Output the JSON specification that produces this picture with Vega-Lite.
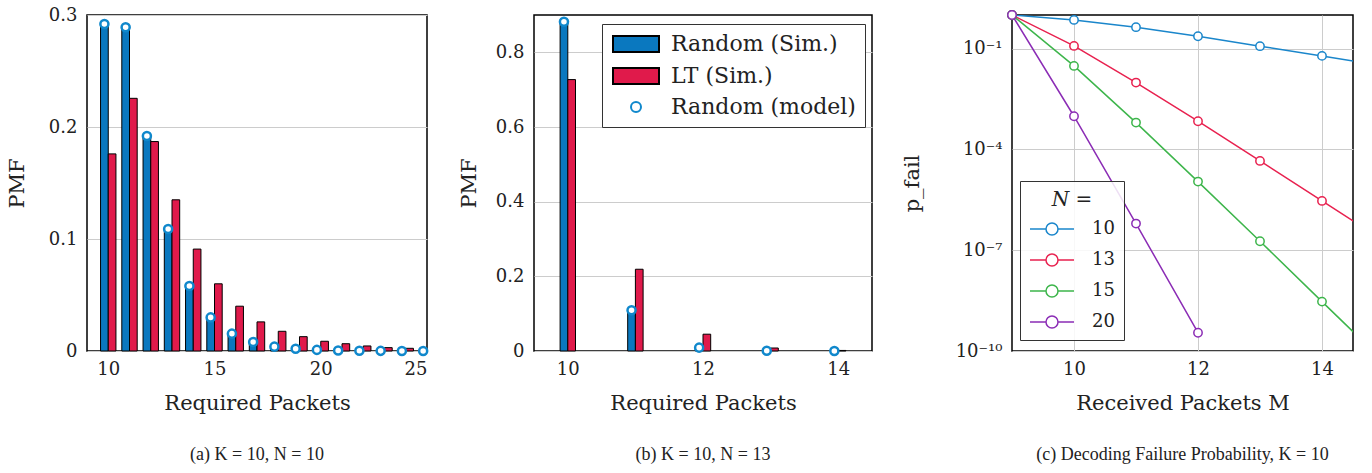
{
  "$schema": "https://vega.github.io/schema/vega-lite/v6.json",
  "padding": {"left": 5, "top": 5, "right": 0, "bottom": 0},
  "background": "white",
  "datasets": {
    "pmfA": [
      {"M": 10, "series": "Random (Sim.)", "pmf": 0.292}, {"M": 10, "series": "LT (Sim.)", "pmf": 0.176}, {"M": 10, "series": "Random (model)", "pmf": 0.292},
      {"M": 11, "series": "Random (Sim.)", "pmf": 0.289}, {"M": 11, "series": "LT (Sim.)", "pmf": 0.2256}, {"M": 11, "series": "Random (model)", "pmf": 0.289},
      {"M": 12, "series": "Random (Sim.)", "pmf": 0.192}, {"M": 12, "series": "LT (Sim.)", "pmf": 0.187}, {"M": 12, "series": "Random (model)", "pmf": 0.192},
      {"M": 13, "series": "Random (Sim.)", "pmf": 0.109}, {"M": 13, "series": "LT (Sim.)", "pmf": 0.135}, {"M": 13, "series": "Random (model)", "pmf": 0.109},
      {"M": 14, "series": "Random (Sim.)", "pmf": 0.058}, {"M": 14, "series": "LT (Sim.)", "pmf": 0.091}, {"M": 14, "series": "Random (model)", "pmf": 0.058},
      {"M": 15, "series": "Random (Sim.)", "pmf": 0.030}, {"M": 15, "series": "LT (Sim.)", "pmf": 0.060}, {"M": 15, "series": "Random (model)", "pmf": 0.030},
      {"M": 16, "series": "Random (Sim.)", "pmf": 0.0155}, {"M": 16, "series": "LT (Sim.)", "pmf": 0.040}, {"M": 16, "series": "Random (model)", "pmf": 0.0155},
      {"M": 17, "series": "Random (Sim.)", "pmf": 0.0078}, {"M": 17, "series": "LT (Sim.)", "pmf": 0.026}, {"M": 17, "series": "Random (model)", "pmf": 0.008},
      {"M": 18, "series": "Random (Sim.)", "pmf": 0.0039}, {"M": 18, "series": "LT (Sim.)", "pmf": 0.0176}, {"M": 18, "series": "Random (model)", "pmf": 0.0039},
      {"M": 19, "series": "Random (Sim.)", "pmf": 0.0019}, {"M": 19, "series": "LT (Sim.)", "pmf": 0.0128}, {"M": 19, "series": "Random (model)", "pmf": 0.002},
      {"M": 20, "series": "Random (Sim.)", "pmf": 0.001}, {"M": 20, "series": "LT (Sim.)", "pmf": 0.0087}, {"M": 20, "series": "Random (model)", "pmf": 0.001},
      {"M": 21, "series": "Random (Sim.)", "pmf": 0.0005}, {"M": 21, "series": "LT (Sim.)", "pmf": 0.0065}, {"M": 21, "series": "Random (model)", "pmf": 0.0005},
      {"M": 22, "series": "Random (Sim.)", "pmf": 0.00025}, {"M": 22, "series": "LT (Sim.)", "pmf": 0.0045}, {"M": 22, "series": "Random (model)", "pmf": 0.00024},
      {"M": 23, "series": "Random (Sim.)", "pmf": 0.00012}, {"M": 23, "series": "LT (Sim.)", "pmf": 0.003}, {"M": 23, "series": "Random (model)", "pmf": 0.00012},
      {"M": 24, "series": "Random (Sim.)", "pmf": 0.00006}, {"M": 24, "series": "LT (Sim.)", "pmf": 0.0024}, {"M": 24, "series": "Random (model)", "pmf": 0.00006},
      {"M": 25, "series": "Random (Sim.)", "pmf": 0.00003}, {"M": 25, "series": "Random (model)", "pmf": 0.00003}
    ],
    "pmfB": [
      {"M": 10, "series": "Random (Sim.)", "pmf": 0.882}, {"M": 10, "series": "LT (Sim.)", "pmf": 0.727}, {"M": 10, "series": "Random (model)", "pmf": 0.882},
      {"M": 11, "series": "Random (Sim.)", "pmf": 0.108}, {"M": 11, "series": "LT (Sim.)", "pmf": 0.219}, {"M": 11, "series": "Random (model)", "pmf": 0.109},
      {"M": 12, "series": "Random (Sim.)", "pmf": 0.009}, {"M": 12, "series": "LT (Sim.)", "pmf": 0.045}, {"M": 12, "series": "Random (model)", "pmf": 0.009},
      {"M": 13, "series": "Random (Sim.)", "pmf": 0.0006}, {"M": 13, "series": "LT (Sim.)", "pmf": 0.008}, {"M": 13, "series": "Random (model)", "pmf": 0.0006},
      {"M": 14, "series": "Random (Sim.)", "pmf": 0.00004}, {"M": 14, "series": "LT (Sim.)", "pmf": 0.0015}, {"M": 14, "series": "Random (model)", "pmf": 0.00004}
    ],
    "pfail": [
      {"M": 9, "N": "10", "p": 1}, {"M": 10, "N": "10", "p": 0.714}, {"M": 11, "N": "10", "p": 0.434}, {"M": 12, "N": "10", "p": 0.234}, {"M": 13, "N": "10", "p": 0.118}, {"M": 14, "N": "10", "p": 0.0607}, {"M": 15, "N": "10", "p": 0.030},
      {"M": 9, "N": "13", "p": 1}, {"M": 10, "N": "13", "p": 0.120}, {"M": 11, "N": "13", "p": 0.00973}, {"M": 12, "N": "13", "p": 0.00069}, {"M": 13, "N": "13", "p": 0.0000455}, {"M": 14, "N": "13", "p": 0.00000293}, {"M": 15, "N": "13", "p": 0.00000019},
      {"M": 9, "N": "15", "p": 1}, {"M": 10, "N": "15", "p": 0.0305}, {"M": 11, "N": "15", "p": 0.000628}, {"M": 12, "N": "15", "p": 0.000011}, {"M": 13, "N": "15", "p": 0.000000185}, {"M": 14, "N": "15", "p": 0.00000000295}, {"M": 15, "N": "15", "p": 0.000000000048},
      {"M": 9, "N": "20", "p": 1}, {"M": 10, "N": "20", "p": 0.00097}, {"M": 11, "N": "20", "p": 0.00000062}, {"M": 12, "N": "20", "p": 0.00000000035}
    ]
  },
  "config": {
    "view": {"stroke": "black", "strokeWidth": 1.5},
    "axis": {
      "labelFont": "DejaVu Serif", "labelFontSize": 18, "labelColor": "#222",
      "titleFont": "DejaVu Serif", "titleFontSize": 21, "titleFontWeight": "normal", "titleColor": "#222",
      "domain": false, "ticks": false, "gridColor": "#cccccc", "gridWidth": 1,
      "labelPadding": 9, "titlePadding": 14
    },
    "axisX": {"format": "d"},
    "axisY": {"titlePadding": 16, "labelPadding": 10},
    "title": {"orient": "bottom", "anchor": "middle", "font": "Liberation Serif", "fontSize": 18, "fontWeight": "normal", "color": "#222", "offset": 33}
  },
  "resolve": {"scale": {"color": "independent"}, "legend": {"color": "independent"}},
  "spacing": 27,
  "hconcat": [
    {
      "bounds": "flush",
      "spacing": 107,
      "resolve": {
        "scale": {"fill": "independent", "stroke": "independent", "shape": "independent"},
        "legend": {"fill": "independent", "stroke": "independent", "shape": "independent"}
      },
      "hconcat": [
        {
          "width": 340, "height": 336,
          "title": {"text": "(a) K = 10, N = 10"},
          "data": {"name": "pmfA"},
          "layer": [
            {
              "transform": [{"filter": "datum.series === 'Random (Sim.)'"}],
              "mark": {"type": "bar", "size": 7.7, "xOffset": -3.85, "fill": "#0a78bf", "stroke": "black", "strokeWidth": 1},
              "encoding": {
                "x": {"field": "M", "type": "quantitative", "scale": {"domain": [9, 25], "nice": false, "zero": false, "padding": 0}, "axis": {"values": [10, 15, 20, 25], "grid": false, "title": "Required Packets"}},
                "y": {"field": "pmf", "type": "quantitative", "scale": {"domain": [0, 0.3], "nice": false}, "axis": {"values": [0, 0.1, 0.2, 0.3], "format": "~g", "grid": true, "title": "PMF", "titlePadding": 21}}
              }
            },
            {
              "transform": [{"filter": "datum.series === 'LT (Sim.)'"}],
              "mark": {"type": "bar", "size": 7.7, "xOffset": 3.85, "fill": "#e01a4b", "stroke": "black", "strokeWidth": 1},
              "encoding": {
                "x": {"field": "M", "type": "quantitative"},
                "y": {"field": "pmf", "type": "quantitative"}
              }
            },
            {
              "transform": [{"filter": "datum.series === 'Random (model)'"}],
              "mark": {"type": "point", "shape": "circle", "size": 65, "xOffset": -3.85, "filled": false, "fill": "white", "stroke": "#1088cc", "strokeWidth": 2.5, "opacity": 1},
              "encoding": {
                "x": {"field": "M", "type": "quantitative"},
                "y": {"field": "pmf", "type": "quantitative"}
              }
            }
          ]
        },
        {
          "width": 338, "height": 336,
          "title": {"text": "(b) K = 10, N = 13"},
          "data": {"name": "pmfB"},
          "layer": [
            {
              "transform": [{"filter": "datum.series === 'Random (Sim.)'"}],
              "mark": {"type": "bar", "size": 7.7, "xOffset": -3.85, "strokeWidth": 1, "fillOpacity": 1},
              "encoding": {
                "x": {"field": "M", "type": "quantitative", "scale": {"domain": [9.5, 14.5], "nice": false, "zero": false, "padding": 0}, "axis": {"values": [10, 12, 14], "grid": false, "title": "Required Packets"}},
                "y": {"field": "pmf", "type": "quantitative", "scale": {"domain": [0, 0.9], "nice": false}, "axis": {"values": [0, 0.2, 0.4, 0.6, 0.8], "format": "~g", "grid": true, "title": "PMF"}},
                "fill": {
                  "field": "series", "type": "nominal",
                  "scale": {"domain": ["Random (Sim.)", "LT (Sim.)", "Random (model)"], "range": ["#0a78bf", "#e01a4b", "white"]},
                  "legend": {
                    "orient": "none", "legendX": 68, "legendY": 9, "title": null,
                    "strokeColor": "#333", "fillColor": "white", "padding": 9,
                    "labelFont": "DejaVu Serif", "labelFontSize": 22, "labelColor": "#222", "labelLimit": 400,
                    "symbolSize": 100, "symbolOffset": 14, "labelOffset": 24, "rowPadding": 8,
                    "symbolStrokeWidth": 2, "symbolOpacity": 1
                  }
                },
                "stroke": {
                  "field": "series", "type": "nominal",
                  "scale": {"domain": ["Random (Sim.)", "LT (Sim.)", "Random (model)"], "range": ["black", "black", "#1088cc"]},
                  "legend": {
                    "orient": "none", "legendX": 68, "legendY": 9, "title": null,
                    "strokeColor": "#333", "fillColor": "white", "padding": 9,
                    "labelFont": "DejaVu Serif", "labelFontSize": 22, "labelColor": "#222", "labelLimit": 400,
                    "symbolSize": 100, "symbolOffset": 14, "labelOffset": 24, "rowPadding": 8,
                    "symbolStrokeWidth": 2, "symbolOpacity": 1
                  }
                }
              }
            },
            {
              "transform": [{"filter": "datum.series === 'LT (Sim.)'"}],
              "mark": {"type": "bar", "size": 7.7, "xOffset": 3.85, "strokeWidth": 1, "fillOpacity": 1},
              "encoding": {
                "x": {"field": "M", "type": "quantitative"},
                "y": {"field": "pmf", "type": "quantitative"},
                "fill": {"field": "series", "type": "nominal"},
                "stroke": {"field": "series", "type": "nominal"}
              }
            },
            {
              "transform": [{"filter": "datum.series === 'Random (model)'"}],
              "mark": {"type": "point", "size": 65, "xOffset": -3.85, "strokeWidth": 2.5, "opacity": 1, "fillOpacity": 1},
              "encoding": {
                "x": {"field": "M", "type": "quantitative"},
                "y": {"field": "pmf", "type": "quantitative"},
                "fill": {"field": "series", "type": "nominal"},
                "stroke": {"field": "series", "type": "nominal"},
                "shape": {
                  "field": "series", "type": "nominal",
                  "scale": {"domain": ["Random (Sim.)", "LT (Sim.)", "Random (model)"], "range": ["M-4.6,-1.6H4.6V1.6H-4.6Z", "M-4.6,-1.6H4.6V1.6H-4.6Z", "circle"]},
                  "legend": {
                    "orient": "none", "legendX": 68, "legendY": 9, "title": null,
                    "strokeColor": "#333", "fillColor": "white", "padding": 9,
                    "labelFont": "DejaVu Serif", "labelFontSize": 22, "labelColor": "#222", "labelLimit": 400,
                    "symbolSize": 100, "symbolOffset": 14, "labelOffset": 24, "rowPadding": 8,
                    "symbolStrokeWidth": 2, "symbolOpacity": 1
                  }
                }
              }
            }
          ]
        }
      ]
    },
    {
      "width": 341, "height": 336,
      "title": {"text": "(c) Decoding Failure Probability, K = 10"},
      "data": {"name": "pfail"},
      "layer": [
        {
          "mark": {"type": "line", "strokeWidth": 1.5, "clip": true},
          "encoding": {
            "x": {"field": "M", "type": "quantitative", "scale": {"domain": [9, 14.5], "nice": false, "zero": false}, "axis": {"values": [10, 12, 14], "grid": true, "title": "Received Packets M"}},
            "y": {"field": "p", "type": "quantitative", "scale": {"type": "log", "domain": [1e-10, 1], "nice": false}, "axis": {"values": [1e-10, 1e-7, 1e-4, 1e-1], "grid": true, "title": "p_fail", "titlePadding": 33, "labelExpr": "datum.value < 1e-9 ? '10⁻¹⁰' : datum.value < 1e-6 ? '10⁻⁷' : datum.value < 1e-3 ? '10⁻⁴' : '10⁻¹'"}},
            "color": {
              "field": "N", "type": "nominal",
              "scale": {"domain": ["10", "13", "15", "20"], "range": ["#1a86cb", "#e8214f", "#3db54b", "#8b2cb5"]},
              "legend": {
                "orient": "none", "legendX": 8, "legendY": 166, "title": "N =",
                "titleFont": "DejaVu Serif", "titleFontStyle": "italic", "titleFontSize": 20, "titleFontWeight": "normal", "titleAnchor": "middle", "titleColor": "#222", "titlePadding": 8,
                "strokeColor": "#333", "fillColor": "rgba(255,255,255,0.85)", "padding": 9,
                "labelFont": "DejaVu Serif", "labelFontSize": 18, "labelColor": "#222",
                "symbolType": "M-2.2,0H-0.6M0.6,0H2.2M0.6,0A0.6,0.6 0 1,1 -0.6,0A0.6,0.6 0 1,1 0.6,0",
                "symbolSize": 400, "symbolOffset": 12, "labelOffset": 29, "rowPadding": 11,
                "symbolStrokeWidth": 1.5, "symbolFillColor": "white"
              }
            },
            "detail": {"field": "N"}
          }
        },
        {
          "transform": [{"filter": "datum.M <= 14"}],
          "mark": {"type": "point", "shape": "circle", "size": 70, "filled": false, "fill": "white", "strokeWidth": 1.5, "opacity": 1},
          "encoding": {
            "x": {"field": "M", "type": "quantitative"},
            "y": {"field": "p", "type": "quantitative"},
            "color": {
              "field": "N", "type": "nominal",
              "legend": {
                "orient": "none", "legendX": 8, "legendY": 166, "title": "N =",
                "titleFont": "DejaVu Serif", "titleFontStyle": "italic", "titleFontSize": 20, "titleFontWeight": "normal", "titleAnchor": "middle", "titleColor": "#222", "titlePadding": 8,
                "strokeColor": "#333", "fillColor": "rgba(255,255,255,0.85)", "padding": 9,
                "labelFont": "DejaVu Serif", "labelFontSize": 18, "labelColor": "#222",
                "symbolType": "M-2.2,0H-0.6M0.6,0H2.2M0.6,0A0.6,0.6 0 1,1 -0.6,0A0.6,0.6 0 1,1 0.6,0",
                "symbolSize": 400, "symbolOffset": 12, "labelOffset": 29, "rowPadding": 11,
                "symbolStrokeWidth": 1.5, "symbolFillColor": "white"
              }
            }
          }
        }
      ]
    }
  ]
}
